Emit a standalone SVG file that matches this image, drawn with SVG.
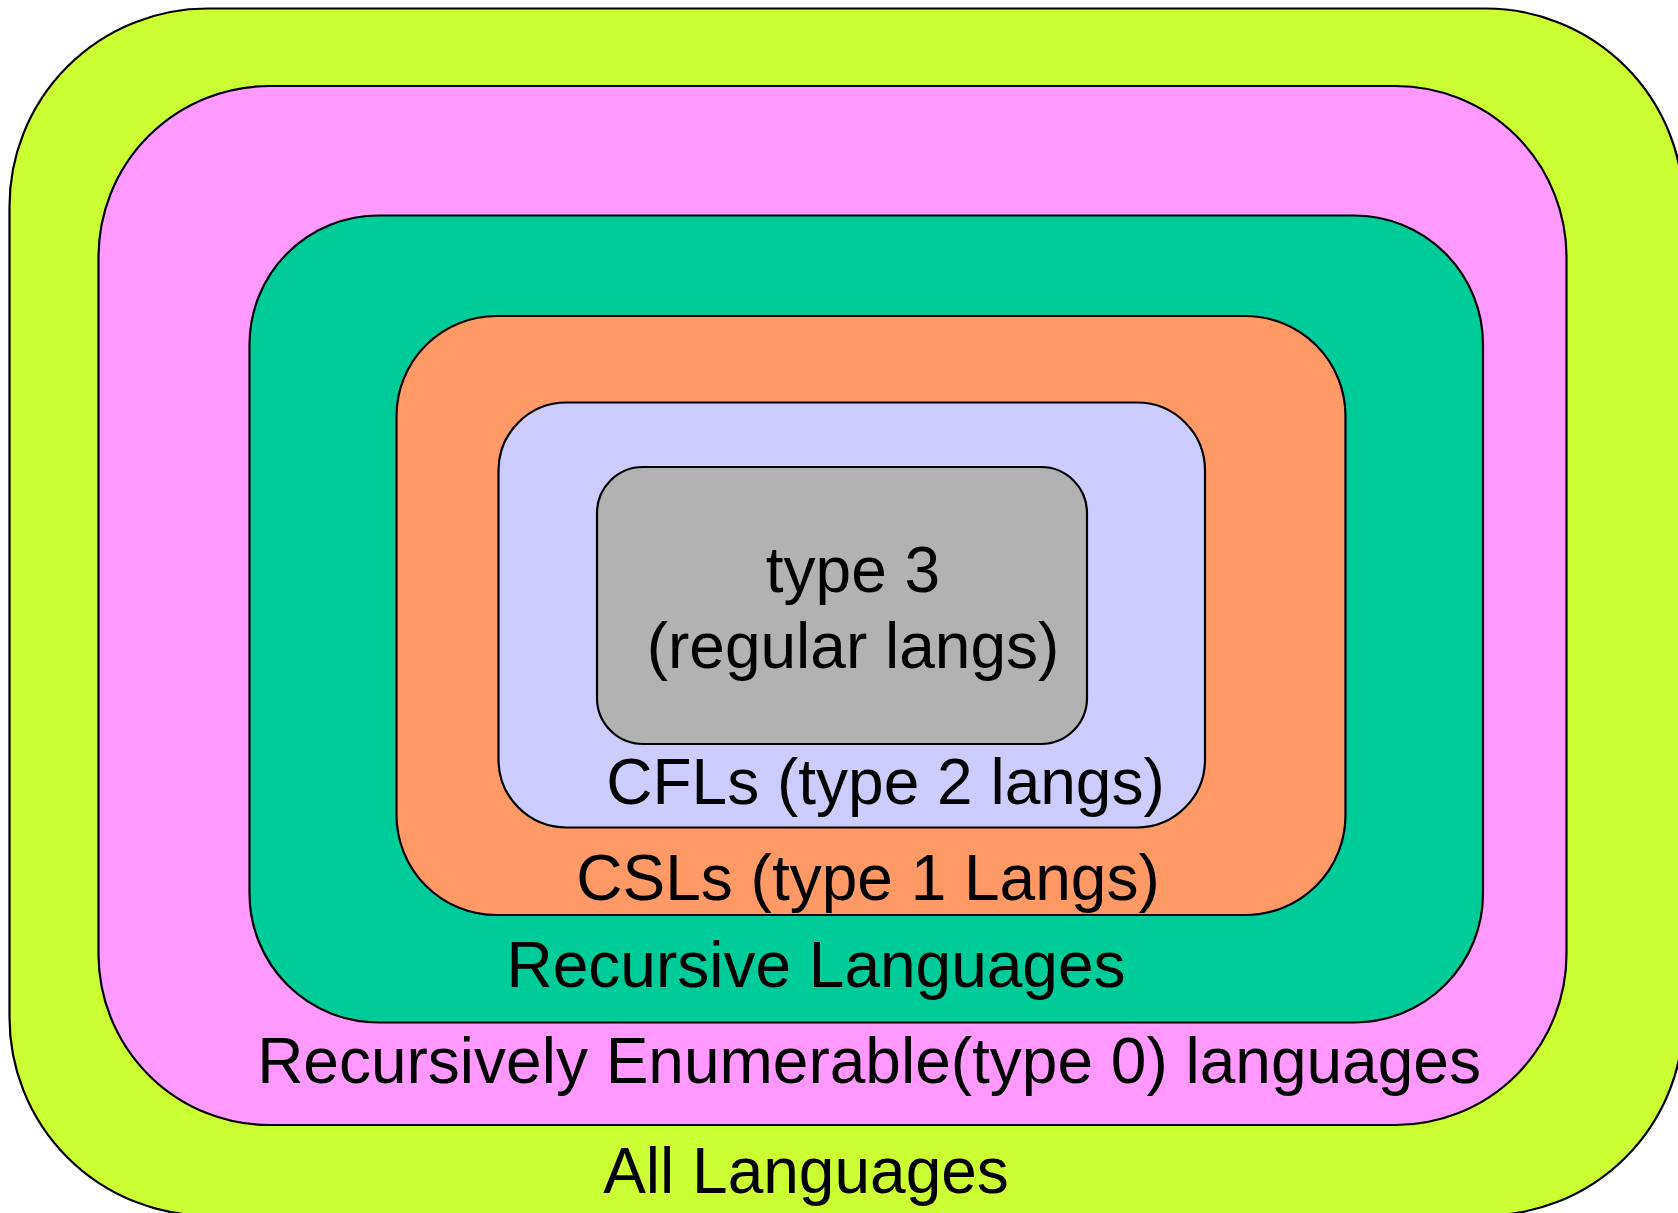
<svg xmlns="http://www.w3.org/2000/svg" width="1678" height="1213" viewBox="0 0 1678 1213">
<style>
.box{stroke:#000;stroke-width:2.2}
.lbl{font-family:"Liberation Sans",Arial,sans-serif;font-size:64px;fill:#000}
</style>
<rect width="1678" height="1213" fill="#fff"/>
<g id="all">
<rect class="box" x="9.5" y="8.5" width="1674" height="1207" rx="198" ry="198" fill="#ccff33"/>
<text class="lbl" x="806" y="1193" text-anchor="middle">All Languages</text>
</g>
<g id="re">
<rect class="box" x="98.5" y="86" width="1468" height="1039" rx="171" ry="171" fill="#ff99ff"/>
<text class="lbl" x="869" y="1083" text-anchor="middle">Recursively Enumerable(type 0) languages</text>
</g>
<g id="recursive">
<rect class="box" x="249.5" y="215.5" width="1233.5" height="807" rx="129" ry="129" fill="#00cc99"/>
<text class="lbl" x="816" y="987" text-anchor="middle">Recursive Languages</text>
</g>
<g id="csl">
<rect class="box" x="396.5" y="316" width="949" height="599" rx="100" ry="100" fill="#ff9966"/>
<text class="lbl" x="868" y="900" text-anchor="middle">CSLs (type 1 Langs)</text>
</g>
<g id="cfl">
<rect class="box" x="498.5" y="402.5" width="706.5" height="425" rx="68" ry="68" fill="#ccccff"/>
<text class="lbl" x="885.5" y="804" text-anchor="middle">CFLs (type 2 langs)</text>
</g>
<g id="regular">
<rect class="box" x="597" y="467" width="490" height="277" rx="46" ry="46" fill="#b2b2b2"/>
<text class="lbl" x="853" y="592" text-anchor="middle">type 3</text>
<text class="lbl" x="853" y="668" text-anchor="middle">(regular langs)</text>
</g>
<g id="connectors"/>
</svg>
